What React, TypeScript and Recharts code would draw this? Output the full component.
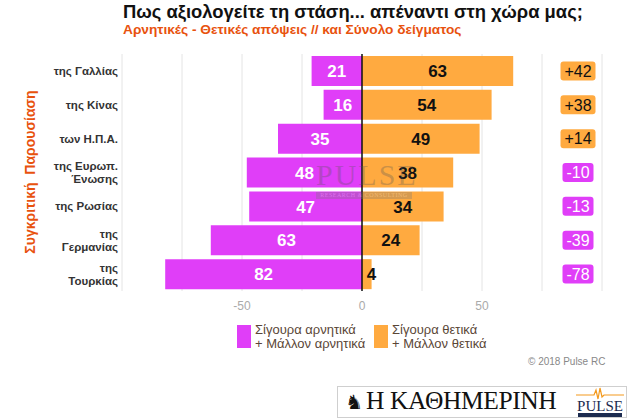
import React from 'react';
import {
  BarChart,
  Bar,
  XAxis,
  YAxis,
  CartesianGrid,
  ReferenceLine,
  ReferenceDot,
  LabelList,
} from 'recharts';

// Country rows (top to bottom)
const countries = [
  'της Γαλλίας',
  'της Κίνας',
  'των Η.Π.Α.',
  'της Ευρωπ.\nΈνωσης',
  'της Ρωσίας',
  'της\nΓερμανίας',
  'της\nΤουρκίας',
];
// Σίγουρα αρνητικά + Μάλλον αρνητικά (%)
const negativeShare = [21, 16, 35, 48, 47, 63, 82];
// Σίγουρα θετικά + Μάλλον θετικά (%)
const positiveShare = [63, 54, 49, 38, 34, 24, 4];
// Net balance (positive minus negative)
const netBalance = [42, 38, 14, -10, -13, -39, -78];

const axisTicks = [-75, -50, -25, 0, 25, 50, 75];
const labelledTicks = [-50, 0, 50];

const MAGENTA = '#E03EF8';
const ORANGE = '#FFAA40';
const ACCENT = '#E8520E';
const FONT = '"Liberation Sans", Arial, sans-serif';

const data = countries.map((name, i) => ({
  name,
  neg: -negativeShare[i],
  pos: positiveShare[i],
  net: netBalance[i],
}));

const CategoryTick = (props: any) => {
  const { x, y, payload } = props;
  const lines = String(payload.value).split('\n');
  const lh = 13;
  const start = -((lines.length - 1) * lh) / 2;
  return (
    <text
      x={x}
      y={y}
      textAnchor="end"
      fontFamily={FONT}
      fontSize={11.5}
      fontWeight="bold"
      fill="#333"
    >
      {lines.map((l, i) => (
        <tspan key={i} x={x} y={y + start + i * lh} dy="0.35em">
          {l}
        </tspan>
      ))}
    </text>
  );
};

const barValueLabel = (color: string) => (props: any) => {
  const { x, y, width, height, value } = props;
  const w = Number(width);
  const cx = Math.abs(w) < 15 ? x + w : x + w / 2;
  return (
    <text
      x={cx}
      y={y + height / 2}
      dy="0.36em"
      textAnchor="middle"
      fontFamily={FONT}
      fontSize={17}
      fontWeight="bold"
      fill={color}
    >
      {Math.abs(Number(value))}
    </text>
  );
};

const NetBox = (net: number) => (props: any) => {
  const { cx, cy } = props;
  const positive = net > 0;
  const w = positive ? 35 : 31;
  const h = 19;
  return (
    <g>
      <rect
        x={cx - w / 2}
        y={cy - h / 2}
        width={w}
        height={h}
        rx={3}
        fill={positive ? ORANGE : MAGENTA}
      />
      <text
        x={cx}
        y={cy}
        dy="0.36em"
        textAnchor="middle"
        fontFamily={FONT}
        fontSize={16}
        fill={positive ? '#111' : '#fff'}
      >
        {positive ? `+${net}` : `${net}`}
      </text>
    </g>
  );
};

const LegendItem = ({ color, lines, left }: { color: string; lines: string[]; left: number }) => (
  <div style={{ position: 'absolute', left, top: 325, display: 'flex' }}>
    <div style={{ width: 14, height: 23, background: color, marginRight: 4 }} />
    <div style={{ fontFamily: FONT, fontSize: 13, lineHeight: '14px', color: '#5a4636', marginTop: -2 }}>
      {lines.map((l) => (
        <div key={l}>{l}</div>
      ))}
    </div>
  </div>
);

export default function App() {
  return (
    <div
      style={{
        position: 'absolute',
        left: 0,
        top: 0,
        width: 630,
        height: 420,
        background: '#fff',
        overflow: 'hidden',
      }}
    >
      <div
        style={{
          position: 'absolute',
          left: 123,
          top: 1,
          fontFamily: FONT,
          fontWeight: 'bold',
          fontSize: 18.4,
          color: '#111',
          whiteSpace: 'nowrap',
        }}
      >
        Πως αξιολογείτε τη στάση... απέναντι στη χώρα μας;
      </div>
      <div
        style={{
          position: 'absolute',
          left: 123,
          top: 22,
          fontFamily: FONT,
          fontWeight: 'bold',
          fontSize: 13.7,
          color: ACCENT,
          whiteSpace: 'nowrap',
        }}
      >
        Αρνητικές - Θετικές απόψεις // και Σύνολο δείγματος
      </div>

      <BarChart
        width={630}
        height={420}
        data={data}
        layout="vertical"
        stackOffset="sign"
        margin={{ top: 54, right: 28, bottom: 109, left: 0 }}
        barSize={30}
      >
        <CartesianGrid horizontal={false} stroke="#e4e4e4" />
        <XAxis
          type="number"
          domain={[-100, 100]}
          ticks={axisTicks}
          tickFormatter={(v: number) => (labelledTicks.includes(v) ? String(v) : '')}
          tickLine={false}
          axisLine={false}
          height={20}
          tick={{ fill: '#aaa', fontSize: 12, fontFamily: FONT }}
          tickMargin={4}
        />
        <YAxis
          type="category"
          dataKey="name"
          width={122}
          tickLine={false}
          axisLine={false}
          tick={<CategoryTick />}
          tickMargin={0}
          tickSize={4}
          interval={0}
        />
        <Bar dataKey="neg" stackId="s" fill={MAGENTA} isAnimationActive={false}>
          <LabelList dataKey="neg" content={barValueLabel('#fff')} />
        </Bar>
        <Bar dataKey="pos" stackId="s" fill={ORANGE} isAnimationActive={false}>
          <LabelList dataKey="pos" content={barValueLabel('#111')} />
        </Bar>
        <ReferenceLine x={0} stroke="#111" strokeWidth={1.5} />
        {data.map((d) => (
          <ReferenceDot
            key={d.name}
            x={90}
            y={d.name}
            r={0}
            ifOverflow="visible"
            shape={NetBox(d.net)}
          />
        ))}
      </BarChart>

      {/* rotated axis caption */}
      <div
        style={{
          position: 'absolute',
          left: 30,
          top: 172,
          transform: 'translate(-50%, -50%) rotate(-90deg)',
          fontFamily: FONT,
          fontWeight: 'bold',
          fontSize: 14,
          color: ACCENT,
          whiteSpace: 'pre',
        }}
      >
        Συγκριτική  Παρουσίαση
      </div>

      {/* faint PULSE watermark */}
      <div
        style={{
          position: 'absolute',
          left: 316,
          top: 160,
          width: 96,
          textAlign: 'center',
          opacity: 0.3,
          pointerEvents: 'none',
        }}
      >
        <div
          style={{
            fontFamily: '"Liberation Serif", serif',
            fontSize: 30,
            letterSpacing: 2,
            color: '#555',
            lineHeight: '30px',
          }}
        >
          PULSE
        </div>
        <div
          style={{
            background: '#777',
            color: '#ddd',
            fontFamily: '"Liberation Serif", serif',
            fontSize: 6,
            lineHeight: '7px',
            marginTop: 2,
            letterSpacing: 0.5,
          }}
        >
          RESEARCH &amp; CONSULTING
        </div>
      </div>

      <LegendItem color={MAGENTA} left={237} lines={['Σίγουρα αρνητικά', '+ Μάλλον αρνητικά']} />
      <LegendItem color={ORANGE} left={374} lines={['Σίγουρα θετικά', '+ Μάλλον θετικά']} />

      <div
        style={{
          position: 'absolute',
          left: 528,
          top: 356,
          fontFamily: FONT,
          fontSize: 10,
          color: '#888',
          whiteSpace: 'nowrap',
        }}
      >
        © 2018 Pulse RC
      </div>

      {/* masthead strip */}
      <div
        style={{
          position: 'absolute',
          left: 337,
          top: 386,
          width: 290,
          height: 32,
          border: '1px solid #cfcfcf',
          boxSizing: 'border-box',
        }}
      >
        <div
          style={{
            position: 'absolute',
            left: 7,
            top: 3,
            fontFamily: '"DejaVu Sans", sans-serif',
            fontSize: 20,
            color: '#111',
          }}
        >
          ♞
        </div>
        <div
          style={{
            position: 'absolute',
            left: 28,
            top: -1,
            fontFamily: '"Liberation Serif", serif',
            fontSize: 25.5,
            color: '#111',
            whiteSpace: 'nowrap',
            letterSpacing: -0.4,
          }}
        >
          Η ΚΑΘΗΜΕΡΙΝΗ
        </div>
        <svg style={{ position: 'absolute', left: 238, top: 0 }} width={50} height={30}>
          <polyline
            points="0,8 18,8 20,3 22,12 24,1 26,10 28,8 48,8"
            fill="none"
            stroke="#F39A1E"
            strokeWidth={1.2}
          />
          <text x={24} y={24} textAnchor="middle" fontFamily='"Liberation Serif", serif' fontSize={15} fill="#1c2b4f">
            PULSE
          </text>
          <rect x={2} y={26} width={44} height={4} fill="#1c2b4f" />
        </svg>
      </div>
    </div>
  );
}
